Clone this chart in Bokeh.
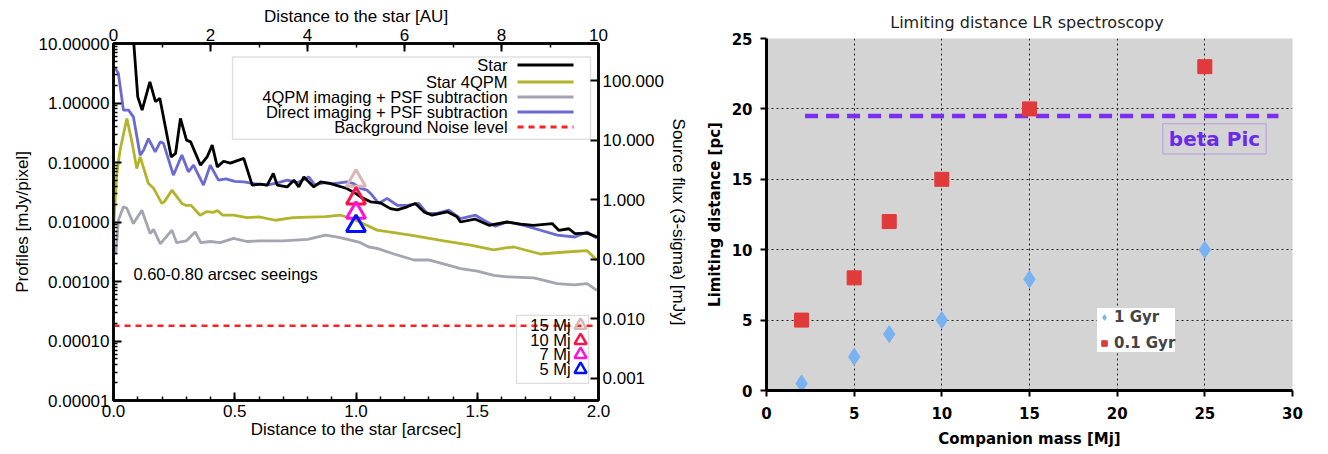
from bokeh.plotting import figure
from bokeh.models import (Range1d, LogAxis, LinearAxis, LogScale, PrintfTickFormatter,
                          FixedTicker, SingleIntervalTicker, BoxAnnotation, Legend,
                          LegendItem, Label)
from bokeh.embed import file_html
from bokeh.resources import INLINE
from bokeh.core.properties import value

# ---------------- Left panel data ----------------
star_x = [0.075, 0.100, 0.118, 0.150, 0.173, 0.191, 0.238, 0.256, 0.276, 0.301, 0.318, 0.359,
          0.386, 0.407, 0.428, 0.454, 0.482, 0.537, 0.572, 0.606, 0.634, 0.659, 0.675, 0.716,
          0.744, 0.764, 0.785, 0.826, 0.854, 0.895, 0.962, 1.000, 1.019, 1.060, 1.100, 1.142,
          1.170, 1.211, 1.245, 1.280, 1.314, 1.376, 1.417, 1.431, 1.490, 1.548, 1.623, 1.680,
          1.732, 1.809, 1.836, 1.878, 1.903, 1.953, 1.995]
star_y = [30.0, 1.27, 0.76, 2.27, 1.05, 1.2, 0.124, 0.142, 0.55, 0.238, 0.222, 0.090,
          0.124, 0.196, 0.0845, 0.105, 0.0975, 0.117, 0.0416, 0.0432, 0.0416, 0.0655, 0.0416, 0.0389,
          0.0505, 0.0389, 0.0573, 0.0389, 0.0472, 0.0443, 0.0366, 0.030, 0.0264, 0.0218, 0.021, 0.0168,
          0.0160, 0.0180, 0.0205, 0.0148, 0.013, 0.0148, 0.0122, 0.010, 0.0112, 0.0088, 0.010, 0.0092,
          0.0088, 0.0094, 0.00726, 0.0077, 0.0064, 0.0065, 0.0056]

star4qpm_x = [0.0, 0.014, 0.027, 0.055, 0.076, 0.096, 0.110, 0.144, 0.165, 0.199, 0.210, 0.241,
              0.282, 0.300, 0.320, 0.357, 0.385, 0.410, 0.430, 0.450, 0.495, 0.550, 0.600, 0.668,
              0.740, 0.874, 0.936, 0.984, 1.020, 1.087, 1.225, 1.362, 1.472, 1.568, 1.623, 1.651,
              1.761, 1.850, 1.953, 1.993]
star4qpm_y = [0.0078, 0.0655, 0.161, 0.55, 0.222, 0.079, 0.124, 0.0443, 0.037, 0.0205, 0.022, 0.0343,
              0.0205, 0.019, 0.019, 0.013, 0.015, 0.0145, 0.0155, 0.013, 0.013, 0.0118, 0.0122, 0.0107,
              0.0118, 0.0123, 0.013, 0.0114, 0.0098, 0.0073, 0.0060, 0.0048, 0.0041, 0.0034, 0.0037, 0.0038,
              0.0029, 0.0031, 0.0033, 0.0023]

qpm_sub_x = [0.008, 0.011, 0.020, 0.041, 0.055, 0.082, 0.117, 0.151, 0.165, 0.193, 0.241, 0.260,
             0.300, 0.337, 0.360, 0.400, 0.440, 0.495, 0.550, 0.600, 0.700, 0.800, 0.874, 0.930,
             1.012, 1.053, 1.087, 1.156, 1.239, 1.300, 1.376, 1.431, 1.500, 1.568, 1.623, 1.733,
             1.830, 1.900, 1.953, 1.993]
qpm_sub_y = [0.0028, 0.00335, 0.0107, 0.018, 0.017, 0.0094, 0.0158, 0.0064, 0.0075, 0.0043, 0.0073, 0.0045,
             0.0048, 0.0068, 0.0045, 0.0047, 0.0045, 0.0053, 0.0047, 0.0048, 0.0048, 0.0051, 0.0060, 0.0055,
             0.0046, 0.0038, 0.0036, 0.0029, 0.0023, 0.0023, 0.0019, 0.00165, 0.0015, 0.00127, 0.0012, 0.00115,
             0.00092, 0.00088, 0.00092, 0.00071]

direct_sub_x = [0.005, 0.020, 0.041, 0.062, 0.082, 0.110, 0.124, 0.144, 0.172, 0.193, 0.206, 0.247,
                0.282, 0.309, 0.330, 0.371, 0.399, 0.433, 0.464, 0.500, 0.537, 0.580, 0.634, 0.680,
                0.716, 0.760, 0.805, 0.830, 0.870, 0.908, 0.964, 0.990, 1.019, 1.046, 1.060, 1.094,
                1.128, 1.170, 1.210, 1.259, 1.293, 1.330, 1.383, 1.431, 1.493, 1.530, 1.575, 1.623,
                1.692, 1.761, 1.830, 1.903, 1.953, 1.993]
direct_sub_y = [4.0, 3.15, 0.76, 0.76, 0.586, 0.133, 0.161, 0.253, 0.151, 0.222, 0.21, 0.0612,
                0.133, 0.0697, 0.09, 0.0416, 0.090, 0.0505, 0.053, 0.048, 0.0472, 0.044, 0.0416, 0.046,
                0.0505, 0.046, 0.0573, 0.042, 0.046, 0.0443, 0.0472, 0.0443, 0.0366, 0.0343, 0.0302, 0.0205,
                0.0249, 0.0191, 0.0191, 0.0205, 0.0139, 0.0139, 0.0158, 0.0114, 0.013, 0.0105, 0.0085, 0.010,
                0.0088, 0.00726, 0.0060, 0.0056, 0.0068, 0.0053]

noise_level = 1.8e-4
noise_x = [0.0, 2.0]

planet_masses = ["15 Mj", "10 Mj", "7 Mj", "5 Mj"]
planet_sep = [1.0, 1.0, 1.0, 1.0]
planet_profile = [0.0494, 0.0248, 0.0143, 0.00855]
planet_colors = ["#d9b6b6", "#ff1048", "#ff10d8", "#0010ff"]

series_names = ["Star", "Star 4QPM", "4QPM imaging + PSF subtraction",
                "Direct imaging + PSF subtraction", "Background Noise level"]
series_colors = ["#000000", "#b4b42c", "#a4a4b2", "#6a6ad2", "#ff2020"]

FLUX_PER_PROFILE = 42.0   # right-axis scale factor (mJy per mJy/pixel)
AU_PER_ARCSEC = 5.0

# ---------------- Right panel data ----------------
mass = [2, 5, 7, 10, 15, 25]
dist_1gyr = [0.5, 2.4, 4.0, 5.0, 7.9, 10.0]
dist_01gyr = [5.0, 8.0, 12.0, 15.0, 20.0, 23.0]
betapic_x = [2.2, 29.2]
betapic_y = [19.5, 19.5]

FONT = "Liberation Sans"
VFONT = "DejaVu Sans"

# =============== Left figure ===============
p1 = figure(width=690, height=454, y_axis_type="log",
            x_range=Range1d(0, 2), y_range=Range1d(1e-5, 10),
            output_backend="svg", toolbar_location=None,
            min_border_left=113, min_border_right=92, min_border_top=43, min_border_bottom=54)
p1.grid.visible = False
p1.outline_line_color = "black"
p1.outline_line_width = 2.5
p1.background_fill_color = "white"
p1.border_fill_color = "white"

def style_axis(ax, size="17px"):
    ax.major_label_text_font = FONT
    ax.major_label_text_font_size = size
    ax.major_label_text_color = "black"
    ax.axis_label_text_font = FONT
    ax.axis_label_text_font_size = size
    ax.axis_label_text_font_style = "normal"
    ax.axis_label_text_color = "black"
    ax.axis_line_color = "black"
    ax.axis_line_width = 2.5
    ax.major_tick_line_color = "black"
    ax.minor_tick_line_color = "black"
    ax.major_tick_line_width = 2
    ax.minor_tick_line_width = 1.5
    ax.major_tick_in = 8
    ax.major_tick_out = 0
    ax.minor_tick_in = 4
    ax.minor_tick_out = 0
    ax.major_label_standoff = 4
    ax.axis_label_standoff = 4

xb = p1.xaxis[0]
xb.ticker = SingleIntervalTicker(interval=0.5, num_minor_ticks=5)
xb.formatter = PrintfTickFormatter(format="%.1f")
xb.axis_label = "Distance to the star [arcsec]"
style_axis(xb)
xb.axis_label_standoff = 0
xb.major_label_standoff = 4

decades = [1e-5, 1e-4, 1e-3, 1e-2, 1e-1, 1.0, 10.0]
minors = [k * d for d in decades[:-1] for k in range(2, 10)]
yl = p1.yaxis[0]
yl.ticker = FixedTicker(ticks=decades, minor_ticks=minors)
yl.formatter = PrintfTickFormatter(format="%.5f")
yl.axis_label = "Profiles [mJy/pixel]"
style_axis(yl)

p1.extra_x_ranges = {"au": Range1d(0, 2 * AU_PER_ARCSEC)}
xt = LinearAxis(x_range_name="au", axis_label="Distance to the star [AU]",
                ticker=SingleIntervalTicker(interval=2, num_minor_ticks=2))
style_axis(xt)
xt.axis_label_standoff = 0
xt.major_label_standoff = 3
p1.add_layout(xt, "above")

p1.extra_y_ranges = {"flux": Range1d(1e-5 * FLUX_PER_PROFILE, 10 * FLUX_PER_PROFILE)}
p1.extra_y_scales = {"flux": LogScale()}
yr = LogAxis(y_range_name="flux", axis_label="Source flux (3-sigma) [mJy]",
             ticker=FixedTicker(ticks=[0.001, 0.01, 0.1, 1, 10, 100], minor_ticks=[]),
             formatter=PrintfTickFormatter(format="%.3f"))
style_axis(yr)
yr.axis_label_standoff = 2
p1.add_layout(yr, "right")

# legend boxes (underlay)
p1.add_layout(BoxAnnotation(left=0.491, right=1.967, bottom=0.247, top=5.93,
                            fill_color="white", fill_alpha=1, line_color="#9a9a9a",
                            line_width=1.5, level="underlay"))
p1.add_layout(BoxAnnotation(left=1.662, right=1.959, bottom=1.94e-5, top=2.7e-4,
                            fill_color="white", fill_alpha=1, line_color="#8a8a8a",
                            line_width=1.2, level="underlay"))

lw = 2.8
p1.line(qpm_sub_x, qpm_sub_y, line_color=series_colors[2], line_width=lw)
p1.line(star4qpm_x, star4qpm_y, line_color=series_colors[1], line_width=lw)
p1.line(direct_sub_x, direct_sub_y, line_color=series_colors[3], line_width=lw)
p1.line(star_x, star_y, line_color=series_colors[0], line_width=lw)
p1.line(noise_x, [noise_level, noise_level], line_color=series_colors[4], line_width=2.5,
        line_dash="6 5")

p1.scatter(planet_sep, planet_profile, marker="triangle", size=19, fill_color=None,
           line_color=planet_colors, line_width=3)

# main legend
leg_y = [4.35, 2.25, 1.258, 0.703, 0.394]
p1.text(x=[1.625] * 5, y=leg_y, text=series_names, text_align="right",
        text_baseline="middle", text_font=value(FONT), text_font_size="16.5px",
        text_color="black")
for i in range(5):
    p1.line([1.666, 1.897], [leg_y[i], leg_y[i]], line_color=series_colors[i], line_width=3,
            line_dash="6 5" if i == 4 else "solid")

# planet legend
pl_y = [1.83e-4, 1.02e-4, 5.94e-5, 3.33e-5]
p1.text(x=[1.885] * 4, y=pl_y, text=planet_masses, text_align="right",
        text_baseline="middle", text_font=value(FONT), text_font_size="16.5px",
        text_color="black")
p1.scatter([1.926] * 4, pl_y, marker="triangle", size=12, fill_color=None,
           line_color=planet_colors, line_width=2.5)

p1.add_layout(Label(x=0.082, y=0.00132, text="0.60-0.80 arcsec seeings",
                    text_font=FONT, text_font_size="16.5px", text_baseline="middle",
                    text_color="black"))

# =============== Right figure ===============
p2 = figure(width=638, height=454, x_range=Range1d(0, 30), y_range=Range1d(0, 25),
            title="Limiting distance  LR spectroscopy",
            output_backend="svg", toolbar_location=None,
            min_border_left=76, min_border_right=36, min_border_top=38, min_border_bottom=64)
p2.background_fill_color = "#d4d4d4"
p2.border_fill_color = "white"
p2.outline_line_color = None
p2.title.align = "center"
p2.title.text_font = VFONT
p2.title.text_font_size = "16px"
p2.title.text_font_style = "normal"
p2.title.text_color = "#222222"
p2.title.standoff = 14

for ax in (p2.xaxis[0], p2.yaxis[0]):
    ax.major_label_text_font = VFONT
    ax.major_label_text_font_size = "15px"
    ax.major_label_text_font_style = "bold"
    ax.major_label_text_color = "black"
    ax.axis_label_text_font = VFONT
    ax.axis_label_text_font_size = "15px"
    ax.axis_label_text_font_style = "bold"
    ax.axis_label_text_color = "black"
    ax.axis_line_color = "black"
    ax.axis_line_width = 3
    ax.major_tick_line_color = "black"
    ax.major_tick_line_width = 2
    ax.major_tick_out = 6
    ax.major_tick_in = 0
    ax.minor_tick_line_color = None
p2.xaxis[0].major_label_standoff = 10
p2.xaxis[0].axis_label_standoff = 8
p2.yaxis[0].major_label_standoff = 8
p2.xaxis[0].ticker = SingleIntervalTicker(interval=5)
p2.yaxis[0].ticker = SingleIntervalTicker(interval=5)
p2.xaxis[0].axis_label = "Companion mass [Mj]"
p2.yaxis[0].axis_label = "Limiting distance [pc]"

p2.xgrid.ticker = FixedTicker(ticks=[5, 10, 15, 20, 25])
p2.ygrid.ticker = FixedTicker(ticks=[5, 10, 15, 20])
for g in (p2.xgrid[0], p2.ygrid[0]):
    g.grid_line_color = "black"
    g.grid_line_dash = "2 3"
    g.grid_line_width = 1
    g.grid_line_alpha = 0.85

p2.line(betapic_x, betapic_y, line_color="#7a2ff0", line_width=4.5, line_dash="13 8")
r1 = p2.scatter(mass, dist_1gyr, marker="diamond", size=17, fill_color="#78b2f0",
                line_color="#78b2f0")
r2 = p2.scatter(mass, dist_01gyr, marker="square", size=14, fill_color="#e03a3a",
                line_color="#e03a3a")

p2.add_layout(BoxAnnotation(left=22.6, right=28.5, bottom=16.8, top=18.95, fill_alpha=0,
                            line_color="#8c5cf0", line_width=1.5))
p2.add_layout(Label(x=25.55, y=17.85, text="beta Pic", text_align="center",
                    text_baseline="middle", text_font=VFONT, text_font_size="20px",
                    text_font_style="bold", text_color="#6a2ae8"))

legend = Legend(items=[LegendItem(label="1 Gyr", renderers=[r1]),
                       LegendItem(label="0.1 Gyr", renderers=[r2])],
                location=(331, 38))
legend.label_text_font = VFONT
legend.label_text_font_size = "15px"
legend.label_text_font_style = "bold"
legend.border_line_color = None
legend.background_fill_color = "white"
legend.background_fill_alpha = 1
legend.glyph_width = 14
legend.glyph_height = 18
legend.label_standoff = 3
legend.padding = 6
legend.spacing = 8
legend.margin = 0
p2.add_layout(legend)

# Two independent roots, laid out side by side (keeps each plot frame independent)
html = file_html([p1, p2], INLINE)
html = html.replace("</head>",
                    "<style>body{display:flex !important;flex-direction:row;"
                    "align-items:flex-start;}</style></head>", 1)
open("out.html", "w").write(html)
